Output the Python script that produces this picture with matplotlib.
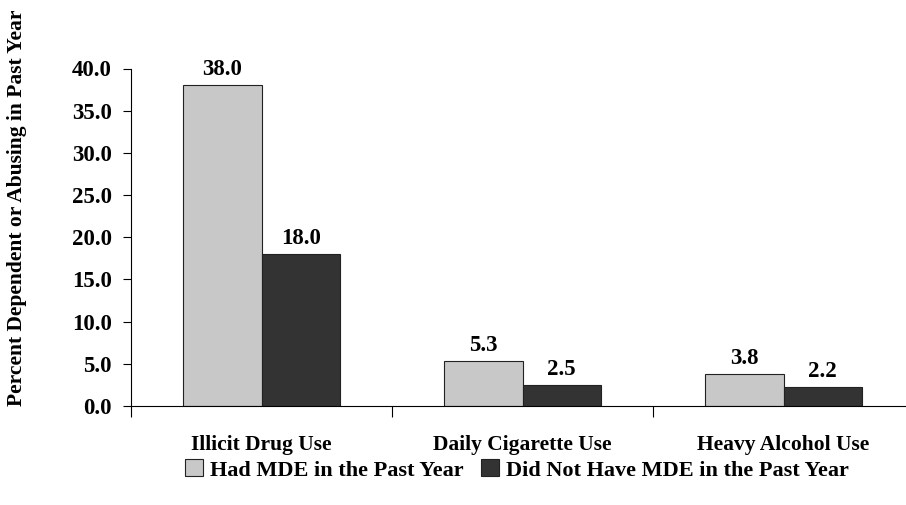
import numpy as np
import matplotlib
matplotlib.use("Agg")
from matplotlib import pyplot as plt

# datos del grafico
categorias = ["Illicit Drug Use", "Daily Cigarette Use", "Heavy Alcohol Use"]
con_mde = [38.0, 5.3, 3.8]
sin_mde = [18.0, 2.5, 2.2]
series = ["Had MDE in the Past Year", "Did Not Have MDE in the Past Year"]
yticks = [0, 5, 10, 15, 20, 25, 30, 35, 40]

plt.rcParams['font.family'] = ['Liberation Serif', 'DejaVu Serif']
plt.rcParams['font.weight'] = 'bold'

fig = plt.figure(figsize=(9.06, 5.05), dpi=100)
ax = fig.add_axes([131/906, 1 - 406/505, 783/906, (406 - 68.5)/505])

x = np.arange(len(categorias))
ancho = 0.30
b1 = ax.bar(x - ancho/2, con_mde, ancho, color="#C8C8C8", edgecolor="#222222", linewidth=0.8, label=series[0])
b2 = ax.bar(x + ancho/2, sin_mde, ancho, color="#333333", edgecolor="#222222", linewidth=0.8, label=series[1])

# etiquetas con los valores sobre cada barra
for barras, vals in [(b1, con_mde), (b2, sin_mde)]:
    for b, v in zip(barras, vals):
        ax.text(b.get_x() + b.get_width()/2, v + 0.6, f"{v:.1f}", ha="center", va="bottom",
                fontsize=16.5, fontweight="bold")

ax.set_xlim(-0.5, 2.5)
ax.set_ylim(0, 40)
ax.set_yticks(yticks)
ax.set_yticklabels([f"{v:.1f}" for v in yticks], fontsize=16.5, fontweight="bold")
ax.set_xticks([-0.5, 0.5, 1.5])
ax.set_xticklabels([])
ax.tick_params(axis="x", length=8, width=0.8, direction="out")
ax.tick_params(axis="y", length=6, width=0.8, direction="out", pad=8)
for i, c in enumerate(categorias):
    ax.text(i, -4.6, c, ha="center", va="center", fontsize=15.5, fontweight="bold")

ax.spines["top"].set_visible(False)
ax.spines["right"].set_visible(False)
ax.spines["left"].set_linewidth(0.8)
ax.spines["bottom"].set_linewidth(0.8)

fig.text(17/906, 1 - 406/505, "Percent Dependent or Abusing in Past Year", rotation=90,
         ha="center", va="bottom", fontsize=15.5, fontweight="bold")

fig.legend(handles=[b1, b2], loc="center", bbox_to_anchor=(517/906, 1 - 470/505), ncol=2,
           frameon=False, handlelength=0.8, handleheight=0.8,
           handletextpad=0.3, columnspacing=0.8, prop={'weight': 'bold', 'size': 16})

fig.savefig("out.png", dpi=100)
